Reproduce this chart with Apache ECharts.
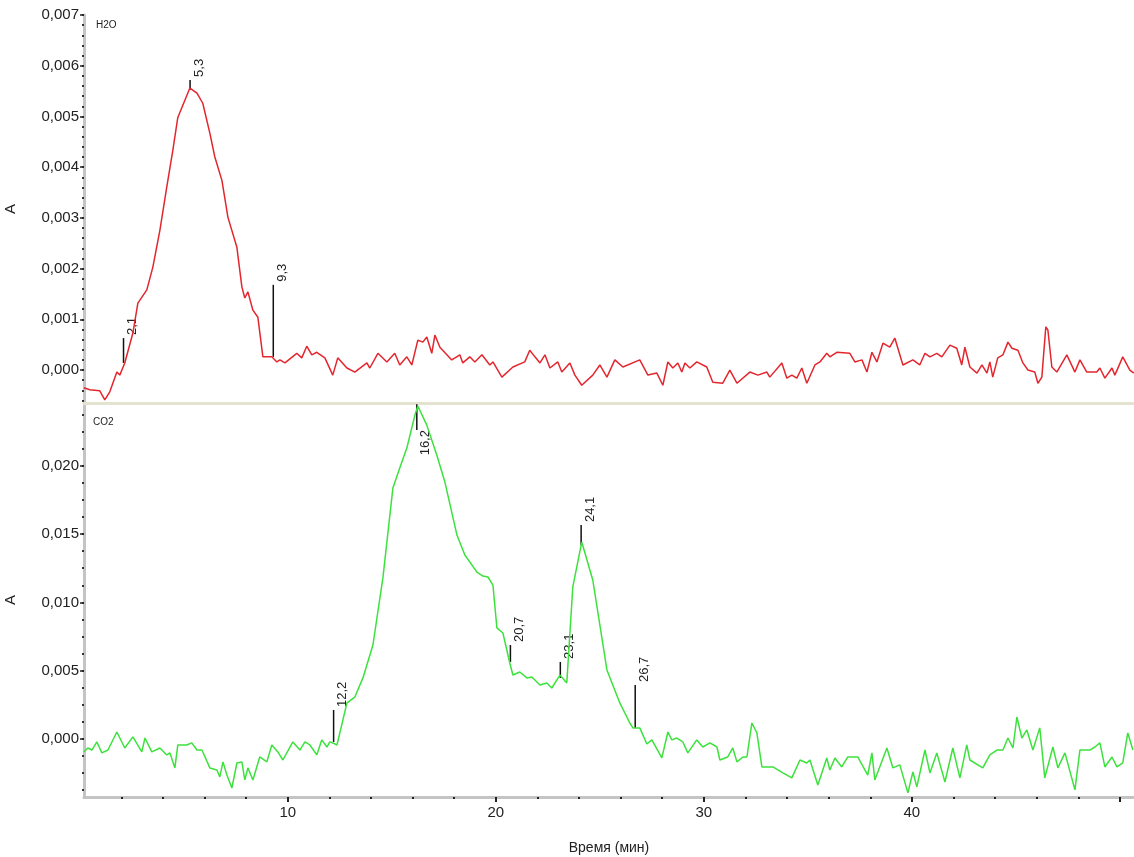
<!DOCTYPE html>
<html>
<head>
	<meta charset="utf-8">
	<title>H2O / CO2</title>
	<style type="text/css">
		*{ padding: 0; margin: 0; }
		html, body{ width: 100%; height: 100%; background: #fff; }
		#chart{ width: 1134px; height: 857px; }
	</style>
</head>
<body>
	<div id="chart"></div>

<script type="text/javascript" src="https://cdn.jsdelivr.net/npm/echarts@6/dist/echarts.min.js"></script>
<script type="text/javascript">
	// время (мин), поглощение A
	var h2oCurve = [
		[0.19,-0.00035],[0.48,-0.00039],[0.96,-0.00041],[1.2,-0.00059],[1.44,-0.00043],[1.78,-0.00004],
		[1.92,-0.0001],[2.16,0.00014],[2.55,0.00073],[2.79,0.00132],[3.22,0.00158],[3.51,0.00203],
		[3.85,0.00276],[4.18,0.00361],[4.47,0.00433],[4.71,0.00498],[5.05,0.00532],[5.29,0.00556],
		[5.63,0.00546],[5.91,0.00526],[6.25,0.00467],[6.49,0.0042],[6.83,0.00374],[7.12,0.00301],
		[7.55,0.00242],[7.79,0.00164],[7.93,0.00142],[8.08,0.00154],[8.32,0.00118],[8.56,0.00104],
		[8.8,0.00026],[9.23,0.00026],[9.47,0.00016],[9.62,0.0002],[9.86,0.00014],[10.43,0.00033],
		[10.67,0.00024],[10.91,0.00047],[11.15,0.0003],[11.39,0.00035],[11.78,0.00024],[12.16,-0.0001],
		[12.4,0.00024],[12.84,0.00004],[13.22,-0.00004],[13.8,0.00014],[13.94,0.00004],[14.33,0.00033],
		[14.76,0.00016],[15.14,0.00033],[15.38,0.0001],[15.72,0.00026],[15.96,0.0001],[16.25,0.00059],
		[16.49,0.00055],[16.68,0.00065],[16.92,0.00033],[17.07,0.00069],[17.31,0.00045],[17.88,0.0002],
		[18.27,0.0003],[18.41,0.00014],[18.75,0.00026],[18.99,0.00016],[19.33,0.0003],[19.71,0.0001],
		[19.86,0.00016],[20.29,-0.00014],[20.82,0.00006],[21.39,0.00016],[21.63,0.00039],[21.88,0.00026],
		[22.12,0.00014],[22.36,0.0003],[22.6,0.00004],[22.98,0.00016],[23.17,-0.00004],[23.56,0.00014],
		[23.8,-0.0001],[24.13,-0.0003],[24.66,-0.0001],[25.0,0.0001],[25.34,-0.00014],[25.72,0.0002],
		[26.11,0.00006],[26.92,0.0002],[27.31,-0.0001],[27.74,-0.00006],[28.03,-0.0003],[28.27,0.00016],
		[28.51,0.00004],[28.75,0.00014],[28.94,-0.00004],[29.09,0.00014],[29.33,0.00004],[29.66,0.00016],
		[30.14,0.00006],[30.43,-0.00024],[30.91,-0.00026],[31.25,0],[31.59,-0.00026],[32.21,-0.00004],
		[32.6,-0.0001],[33.03,-0.00004],[33.17,-0.00014],[33.75,0.00014],[33.99,-0.00016],[34.23,-0.0001],
		[34.47,-0.00016],[34.71,0.00004],[34.95,-0.00026],[35.34,0.0001],[35.58,0.00016],[35.91,0.00033],
		[36.06,0.00026],[36.39,0.00035],[37.02,0.00033],[37.26,0.00016],[37.6,0.0002],[37.84,-0.00004],
		[38.08,0.00035],[38.32,0.00016],[38.61,0.00053],[38.94,0.00045],[39.18,0.00063],[39.57,0.0001],
		[40.05,0.0002],[40.38,0.0001],[40.63,0.00033],[40.87,0.00026],[41.2,0.00033],[41.44,0.00026],
		[41.83,0.00049],[42.16,0.00043],[42.4,0.0001],[42.55,0.00045],[42.79,0.00006],[43.13,-0.00006],
		[43.37,0.0001],[43.61,-0.00006],[43.75,0.00016],[43.89,-0.00014],[44.13,0.00024],[44.38,0.0003],
		[44.62,0.00055],[44.81,0.00043],[45.1,0.00039],[45.34,0.00014],[45.58,0],[45.91,-0.00004],
		[46.06,-0.00026],[46.25,-0.00014],[46.44,0.00085],[46.54,0.00079],[46.73,0.00006],[46.97,-0.00004],
		[47.45,0.0003],[47.84,-0.00004],[48.08,0.0002],[48.41,-0.00004],[48.89,-0.00004],[49.04,0.00004],
		[49.28,-0.00016],[49.62,0.00004],[49.76,-0.0001],[50.14,0.00026],[50.48,0],[50.67,-0.00006]
	];

	var co2Curve = [
		[0.19,-0.00095],[0.38,-0.00066],[0.58,-0.00081],[0.82,-0.00022],[1.06,-0.00102],[1.35,-0.00081],
		[1.78,0.00051],[2.16,-0.00066],[2.55,0.00015],[2.98,-0.00095],[3.13,0.00007],[3.46,-0.00095],
		[3.85,-0.00066],[4.18,-0.00117],[4.33,-0.00102],[4.57,-0.00212],[4.71,-0.00044],[5.14,-0.00044],
		[5.38,-0.00029],[5.63,-0.00081],[5.87,-0.00081],[6.25,-0.00212],[6.59,-0.00227],[6.73,-0.00278],
		[6.88,-0.00168],[7.07,-0.00264],[7.31,-0.00359],[7.55,-0.00176],[7.79,-0.00168],[7.93,-0.003],
		[8.08,-0.00212],[8.32,-0.003],[8.65,-0.00132],[8.99,-0.00168],[9.23,-0.00044],[9.52,-0.00095],
		[9.76,-0.00154],[10.24,-0.00022],[10.58,-0.00081],[10.82,-0.00022],[11.06,-0.00044],[11.39,-0.00117],
		[11.63,-0.00007],[11.88,-0.00059],[12.02,-0.00022],[12.16,-0.00029],[12.36,-0.00044],[12.5,0.00044],
		[12.84,0.00264],[13.22,0.00307],[13.61,0.00447],[14.09,0.00688],[14.57,0.01179],[15.05,0.01837],
		[15.38,0.01984],[15.72,0.0213],[16.11,0.02372],[16.25,0.02438],[16.68,0.02298],[17.16,0.02079],
		[17.55,0.01881],[18.13,0.01493],[18.51,0.01347],[19.09,0.01222],[19.38,0.01193],[19.62,0.01186],
		[19.86,0.01127],[20.05,0.00813],[20.34,0.00776],[20.67,0.00556],[20.82,0.00468],[21.15,0.0049],
		[21.49,0.00447],[21.73,0.00454],[22.12,0.00395],[22.45,0.0041],[22.69,0.00373],[23.08,0.00468],
		[23.41,0.0041],[23.7,0.01113],[24.13,0.01442],[24.66,0.01164],[25.34,0.00505],[25.96,0.00264],
		[26.44,0.00117],[26.59,0.00081],[26.92,0.00081],[27.26,-0.00037],[27.5,-0.00007],[27.98,-0.00139],
		[28.27,0.00051],[28.46,-0.00007],[28.7,0.00007],[28.99,-0.00022],[29.23,-0.00102],[29.66,-0.00007],
		[29.95,-0.00059],[30.29,-0.00029],[30.63,-0.00059],[30.77,-0.00154],[31.15,-0.00132],[31.39,-0.00066],
		[31.59,-0.00168],[31.88,-0.00132],[32.07,-0.00132],[32.31,0.00117],[32.55,0.00044],[32.79,-0.00205],
		[33.32,-0.00205],[33.8,-0.00249],[34.23,-0.00285],[34.62,-0.00154],[34.95,-0.00176],[35.1,-0.00154],
		[35.48,-0.00337],[35.91,-0.00139],[36.06,-0.00227],[36.3,-0.00139],[36.63,-0.00205],[36.92,-0.00132],
		[37.4,-0.00132],[37.88,-0.00264],[38.08,-0.00102],[38.22,-0.003],[38.8,-0.00066],[39.09,-0.00212],
		[39.42,-0.0019],[39.81,-0.00395],[40.05,-0.00242],[40.24,-0.00351],[40.63,-0.00081],[40.87,-0.00249],
		[41.2,-0.00102],[41.59,-0.00315],[41.97,-0.00066],[42.31,-0.00285],[42.64,-0.00044],[42.79,-0.00154],
		[43.41,-0.00212],[43.75,-0.00117],[44.09,-0.00081],[44.38,-0.00081],[44.62,0.00007],[44.86,-0.00066],
		[45.05,0.00161],[45.29,0.00007],[45.53,0.00066],[45.82,-0.00081],[46.15,0.00081],[46.39,-0.00285],
		[46.78,-0.00059],[47.02,-0.00212],[47.36,-0.00102],[47.84,-0.00373],[48.08,-0.00081],[48.56,-0.00081],
		[48.8,-0.00059],[49.04,-0.00029],[49.28,-0.00205],[49.62,-0.00132],[49.86,-0.00205],[50.14,-0.00176],
		[50.38,0.00044],[50.63,-0.00081]
	];

	// отметки пиков: [время, низ черты, верх черты]
	var h2oPeaks = [[2.1, 0.00014, 0.00063], [5.3, 0.00556, 0.00572], [9.3, 0.00026, 0.00168]];
	var h2oPeakLabels = ['2,1', '5,3', '9,3'];
	var h2oPeakSide = ['above', 'above', 'above'];

	var co2Peaks = [[12.2, -0.00022, 0.00212], [16.2, 0.02262, 0.0245], [20.7, 0.00564, 0.00688],
		[23.1, 0.00447, 0.00564], [24.1, 0.0142, 0.01566], [26.7, 0.00081, 0.00395]];
	var co2PeakLabels = ['12,2', '16,2', '20,7', '23,1', '24,1', '26,7'];
	var co2PeakSide = ['above', 'below', 'above', 'above', 'above', 'above'];

	// шкалы
	var h2oTicks = [0, 0.001, 0.002, 0.003, 0.004, 0.005, 0.006, 0.007];
	var co2Ticks = [0, 0.005, 0.01, 0.015, 0.02];
	var timeTicks = [10, 20, 30, 40, 50];
	var timeLabels = [10, 20, 30, 40];
	var timeMinorTicks = [2, 4, 6, 8, 10, 12, 14, 16, 18, 20, 22, 24, 26, 28, 30, 32, 34, 36, 38, 40, 42, 44, 46, 48, 50];

	function stepTicks(from, to, step) {
		var out = [];
		for (var i = Math.ceil(from / step - 1e-9); i * step <= to + 1e-12; i++) {
			out.push(+(i * step).toFixed(6));
		}
		return out;
	}
	var h2oMinorTicks = stepTicks(-0.00065, 0.007, 0.0002);
	var co2MinorTicks = stepTicks(-0.00425, 0.0246, 0.00125);

	var FONT = '"Liberation Sans", Arial, sans-serif';
	var AXIS_GRAY = '#c4c4c4';

	function fmt(v) {
		return v.toFixed(3).replace('.', ',');
	}

	function peakRenderer(labels, sides) {
		return function (params, api) {
			var p1 = api.coord([api.value(0), api.value(1)]);
			var p2 = api.coord([api.value(0), api.value(2)]);
			var below = sides[params.dataIndex] === 'below';
			return {
				type: 'group',
				children: [{
					type: 'line',
					shape: { x1: p1[0], y1: p1[1], x2: p2[0], y2: p2[1] },
					style: { stroke: '#111', lineWidth: 1.5 }
				}, {
					type: 'text',
					x: p1[0] + 9,
					y: below ? p1[1] : p2[1] - 3,
					rotation: Math.PI / 2,
					style: {
						text: labels[params.dataIndex],
						align: below ? 'right' : 'left',
						verticalAlign: 'middle',
						fill: '#222',
						font: '13px ' + FONT
					}
				}]
			};
		};
	}

	var chart = echarts.init(document.getElementById('chart'));
	var option = {
		animation: false,
		backgroundColor: '#fff',
		textStyle: { fontFamily: FONT },
		title: [
			{ text: 'H2O', left: 91, top: 15, textStyle: { fontSize: 10, fontWeight: 'normal', color: '#222' } },
			{ text: 'CO2', left: 88, top: 412, textStyle: { fontSize: 10, fontWeight: 'normal', color: '#222' } }
		],
		grid: [
			{ left: 84, right: 0, top: 15, height: 388, containLabel: false, outerBoundsMode: 'none' },
			{ left: 84, right: 0, top: 403, height: 394, containLabel: false, outerBoundsMode: 'none' }
		],
		xAxis: [{
			// верхняя панель: ось служит разделителем
			type: 'value', gridIndex: 0, min: 0.2, max: 50.68, position: 'bottom',
			axisLine: { show: true, onZero: false, lineStyle: { color: '#e3e3cf', width: 3 } },
			axisTick: { show: false }, axisLabel: { show: false }, splitLine: { show: false }
		}, {
			type: 'value', gridIndex: 1, min: 0.2, max: 50.68, position: 'bottom',
			name: 'Время (мин)', nameLocation: 'middle', nameGap: 44,
			nameTextStyle: { fontSize: 14, color: '#222' },
			axisLine: { show: true, onZero: false, lineStyle: { color: AXIS_GRAY, width: 3 } },
			axisTick: { show: true, customValues: timeMinorTicks, length: 2, lineStyle: { color: '#222', width: 2 } },
			axisLabel: { customValues: timeLabels, margin: 8, fontSize: 15, color: '#222' },
			splitLine: { show: false }
		}, {
			type: 'value', gridIndex: 1, min: 0.2, max: 50.68, position: 'bottom', offset: 0,
			axisLine: { show: false, onZero: false },
			axisTick: { show: true, customValues: timeTicks, length: 5, lineStyle: { color: '#222', width: 2 } },
			axisLabel: { show: false }, splitLine: { show: false }
		}],
		yAxis: [{
			type: 'value', gridIndex: 0, min: -0.00065, max: 0.007, position: 'left',
			name: 'A', nameLocation: 'middle', nameGap: 66,
			nameTextStyle: { fontSize: 15, color: '#222' },
			axisLine: { show: true, onZero: false, lineStyle: { color: AXIS_GRAY, width: 3 } },
			axisTick: { show: true, customValues: h2oMinorTicks, length: 2, lineStyle: { color: '#333', width: 2 } },
			axisLabel: { customValues: h2oTicks, formatter: fmt, margin: 5, fontSize: 15, color: '#222' },
			splitLine: { show: false }
		}, {
			type: 'value', gridIndex: 0, min: -0.00065, max: 0.007, position: 'left', offset: 0,
			axisLine: { show: false, onZero: false },
			axisTick: { show: true, customValues: h2oTicks, length: 4, lineStyle: { color: '#222', width: 1.5 } },
			axisLabel: { show: false }, splitLine: { show: false }
		}, {
			type: 'value', gridIndex: 1, min: -0.00425, max: 0.0246, position: 'left',
			name: 'A', nameLocation: 'middle', nameGap: 66,
			nameTextStyle: { fontSize: 15, color: '#222' },
			axisLine: { show: true, onZero: false, lineStyle: { color: AXIS_GRAY, width: 3 } },
			axisTick: { show: true, customValues: co2MinorTicks, length: 2, lineStyle: { color: '#333', width: 2 } },
			axisLabel: { customValues: co2Ticks, formatter: fmt, margin: 5, fontSize: 15, color: '#222' },
			splitLine: { show: false }
		}, {
			type: 'value', gridIndex: 1, min: -0.00425, max: 0.0246, position: 'left', offset: 0,
			axisLine: { show: false, onZero: false },
			axisTick: { show: true, customValues: co2Ticks, length: 4, lineStyle: { color: '#222', width: 1.5 } },
			axisLabel: { show: false }, splitLine: { show: false }
		}],
		series: [{
			name: 'H2O', type: 'line', xAxisIndex: 0, yAxisIndex: 0,
			showSymbol: false, lineStyle: { color: '#e3262e', width: 1.5 },
			data: h2oCurve
		}, {
			name: 'CO2', type: 'line', xAxisIndex: 1, yAxisIndex: 2,
			showSymbol: false, lineStyle: { color: '#3ce23c', width: 1.5 },
			data: co2Curve
		}, {
			type: 'custom', xAxisIndex: 0, yAxisIndex: 0, clip: false,
			encode: { x: 0, y: [1, 2] },
			renderItem: peakRenderer(h2oPeakLabels, h2oPeakSide),
			data: h2oPeaks
		}, {
			type: 'custom', xAxisIndex: 1, yAxisIndex: 2, clip: false,
			encode: { x: 0, y: [1, 2] },
			renderItem: peakRenderer(co2PeakLabels, co2PeakSide),
			data: co2Peaks
		}]
	};
	chart.setOption(option);
</script>
</body>
</html>
